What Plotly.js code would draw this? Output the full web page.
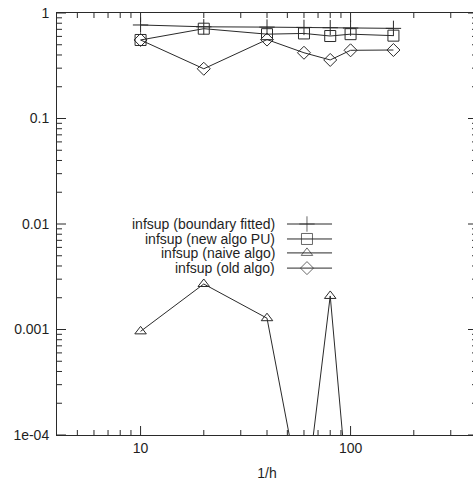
<!DOCTYPE html>
<html>
<head>
<meta charset="utf-8">
<script src="https://cdn.plot.ly/plotly-3.0.1.min.js"></script>
<style>
  html, body { margin: 0; padding: 0; overflow: hidden; background: #fff; }
  #plot { width: 481px; height: 481px; }
</style>
</head>
<body>
<div id="plot"></div>
<script>
// Mesh refinement levels (1/h)
const invH = [10, 20, 40, 60, 80, 100, 160];

// inf-sup constants for each method
const boundaryFitted = [0.77, 0.74, 0.735, 0.73, 0.725, 0.72, 0.715];
const newAlgoPU      = [0.555, 0.71, 0.63, 0.64, 0.605, 0.63, 0.61];
const naiveAlgo      = [0.00096, 0.0027, 0.00128, 0.0000185, 0.00208, 0.000014, 0.00001];
const oldAlgo        = [0.555, 0.296, 0.56, 0.42, 0.359, 0.443, 0.446];

const seriesNames = [
  'infsup (boundary fitted)',
  'infsup (new algo PU)',
  'infsup (naive algo)',
  'infsup (old algo)'
];
const seriesData = [boundaryFitted, newAlgoPU, naiveAlgo, oldAlgo];
const seriesSymbols = ['cross-thin-open', 'square-open', 'triangle-up-open', 'diamond-open'];
const seriesSizes = [11, 11, 10, 10];

const xTickVals = [10, 100];
const xTickText = ['10', '100'];
const yTickVals = [1e-4, 1e-3, 1e-2, 0.1, 1];
const yTickText = ['1e-04', '0.001', '0.01', '0.1', '1'];

const ink = '#2a2a2a';
const family = 'Liberation Sans, Arial, Helvetica, sans-serif';
const font = { family: family, size: 14, color: '#1f1f1f' };

// plot area size in pixels and axis ranges in log10 units
const W = 481, H = 481;
const margin = { l: 57, r: 4, t: 13, b: 46 };
const plotW = W - margin.l - margin.r;
const plotH = H - margin.t - margin.b;
const xRange = [Math.log10(4), Math.log10(400)];
const yRange = [-4, 0];

// log-axis helpers: value -> fraction of the plot area, and back
const toFrac = (r, v) => (Math.log10(v) - r[0]) / (r[1] - r[0]);
const fromFrac = (r, f) => Math.pow(10, r[0] + f * (r[1] - r[0]));

// mantissas 2..9 of every decade inside a log range
function minorTicks(r) {
  const out = [];
  for (let e = Math.floor(r[0]); e < Math.ceil(r[1]); e++) {
    for (let m = 2; m <= 9; m++) {
      const v = m * Math.pow(10, e);
      const f = toFrac(r, v);
      if (f > 0.001 && f < 0.999) out.push(v);
    }
  }
  return out;
}

const traces = seriesData.map((ys, i) => ({
  x: invH,
  y: ys,
  name: seriesNames[i],
  type: 'scatter',
  mode: 'lines+markers',
  line: { color: ink, width: 1 },
  marker: {
    symbol: seriesSymbols[i],
    size: seriesSizes[i],
    color: ink,
    line: { color: ink, width: 1 }
  }
}));

// Key: right-aligned labels with a line sample to their right
const keyTextX = 0.524;
const keySampleX = [0.5476, 0.5952, 0.6548];
const keyRowsY = [0.5, 0.4645, 0.4315, 0.3955];
const annotations = [];
seriesNames.forEach((name, i) => {
  annotations.push({
    xref: 'paper', yref: 'paper',
    x: keyTextX, y: keyRowsY[i],
    xanchor: 'right', yanchor: 'middle',
    text: name, showarrow: false, font: font
  });
  const yk = fromFrac(yRange, keyRowsY[i]);
  traces.push({
    x: keySampleX.map(f => fromFrac(xRange, f)),
    y: [yk, yk, yk],
    type: 'scatter',
    mode: 'lines+markers',
    hoverinfo: 'skip',
    line: { color: ink, width: 1 },
    marker: {
      symbol: seriesSymbols[i],
      size: [0, seriesSizes[i], 0],
      color: ink,
      line: { color: ink, width: 1 }
    }
  });
});

// Inward tick marks on all four sides of the frame
const shapes = [];
const tickLine = (x0, y0, x1, y1) => shapes.push({
  type: 'line', xref: 'paper', yref: 'paper', x0: x0, y0: y0, x1: x1, y1: y1,
  line: { color: ink, width: 1 }
});
function xTicks(vals, len) {
  vals.forEach(v => {
    const f = toFrac(xRange, v);
    tickLine(f, 0, f, len / plotH);
    tickLine(f, 1, f, 1 - len / plotH);
  });
}
function yTicks(vals, len) {
  vals.forEach(v => {
    const f = toFrac(yRange, v);
    tickLine(0, f, len / plotW, f);
    tickLine(1, f, 1 - len / plotW, f);
  });
}
xTicks(xTickVals, 9);
xTicks(minorTicks(xRange), 5);
yTicks(yTickVals, 9);
yTicks(minorTicks(yRange), 5);

const layout = {
  width: W,
  height: H,
  margin: margin,
  font: font,
  showlegend: false,
  xaxis: {
    type: 'log',
    range: xRange,
    tickmode: 'array',
    tickvals: xTickVals,
    ticktext: xTickText,
    ticks: '',
    showline: true,
    linecolor: ink,
    linewidth: 1,
    mirror: true,
    showgrid: false,
    zeroline: false,
    tickfont: font,
    title: { text: '1/h', font: font, standoff: 15 }
  },
  yaxis: {
    type: 'log',
    range: yRange,
    tickmode: 'array',
    tickvals: yTickVals,
    ticktext: yTickText,
    ticks: '',
    ticklabelstandoff: 4,
    showline: true,
    linecolor: ink,
    linewidth: 1,
    mirror: true,
    showgrid: false,
    zeroline: false,
    tickfont: font
  },
  shapes: shapes,
  annotations: annotations
};

Plotly.newPlot('plot', traces, layout, { staticPlot: true });
</script>
</body>
</html>
